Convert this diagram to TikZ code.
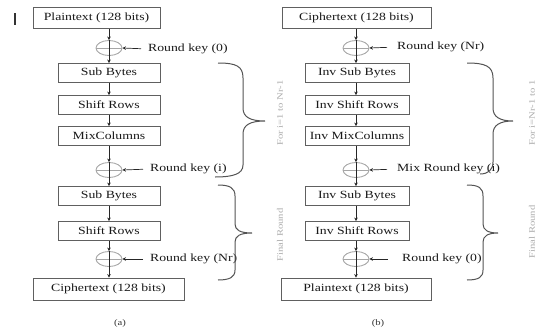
\documentclass[tikz,border=0pt]{standalone}
\usepackage{fontspec}
\setmainfont{Liberation Serif}[FakeStretch=1.25]
\usetikzlibrary{arrows.meta,shapes.geometric}
\begin{document}
\begin{tikzpicture}[x=1pt,y=-1pt,
  box/.style={draw=gray!75!black, line width=0.9pt, fill=white, inner sep=0pt,
    font=\fontsize{11}{12}\selectfont, text=black!90},
  midbox/.style={box, minimum height=19pt},
  xorsym/.style={draw=gray!70, line width=0.9pt, ellipse, minimum width=26pt, minimum height=15pt, inner sep=0pt},
  keytext/.style={anchor=west, inner sep=0pt, font=\fontsize{11}{12}\selectfont, text=black!90},
  arr/.style={draw=black!85, line width=0.7pt, -{Stealth[length=3.5pt,width=3.5pt]}},
  bracestyle/.style={draw=gray!65!black, line width=1pt},
  rotlabel/.style={rotate=90, text=gray!65, font=\fontsize{8.5}{9}\selectfont},
  caption/.style={font=\fontsize{8.5}{9}\selectfont, text=black!80}]
\useasboundingbox (0,0) rectangle (548,332);
% stray bar
\draw[line width=1.6pt, black!80] (15,13) -- (15,25);

% ---------------- left column (a)
\node[box, minimum width=127pt, minimum height=21pt] (p1) at (96.5,18) {Plaintext (128 bits)};
\node[xorsym] (xa1) at (109,48) {};
\draw[gray!70, line width=0.8pt] (xa1.west) -- (xa1.east);
\node[keytext] (ka1) at (148,49) {Round key (0)};
\node[midbox, minimum width=102pt] (sb1) at (109,73) {Sub Bytes};
\node[midbox, minimum width=102pt] (sr1) at (109,105) {Shift Rows};
\node[midbox, minimum width=102pt] (mc1) at (109,136) {MixColumns};
\node[xorsym] (xa2) at (109,170) {};
\draw[gray!70, line width=0.8pt] (xa2.west) -- (xa2.east);
\node[keytext] (ka2) at (150,169) {Round key (i)};
\node[midbox, minimum width=102pt] (sb2) at (109,196) {Sub Bytes};
\node[midbox, minimum width=102pt] (sr2) at (109,231) {Shift Rows};
\node[xorsym] (xa3) at (109,259) {};
\draw[gray!70, line width=0.8pt] (xa3.west) -- (xa3.east);
\node[keytext] (ka3) at (150,259) {Round key (Nr)};
\node[box, minimum width=151pt, minimum height=22pt] (c1) at (108.5,289) {Ciphertext (128 bits)};
\node[caption] (capa) at (120,323) {(a)};

\draw[arr] (xa1.north |- p1.south) -- (xa1.north);
\draw[arr] (xa1.north) -- (sb1.north);
\draw[arr] (sb1.south) -- (sr1.north);
\draw[arr] (sr1.south) -- (mc1.north);
\draw[arr] (mc1.south) -- (xa2.north);
\draw[arr] (xa2.north) -- (sb2.north);
\draw[arr] (sb2.south) -- (sr2.north);
\draw[arr] (sr2.south) -- (xa3.north);
\draw[arr] (xa3.north) -- (xa3.north |- c1.north);
\draw[arr, shorten <=7pt] (ka1.west) -- (xa1.east);
\draw[arr, shorten <=7pt] (ka2.west) -- (xa2.east);
\draw[arr, shorten <=7pt] (ka3.west) -- (xa3.east);

% ---------------- right column (b)
\node[box, minimum width=149pt, minimum height=21pt] (c2) at (356.5,18) {Ciphertext (128 bits)};
\node[xorsym] (xb1) at (356,48) {};
\draw[gray!70, line width=0.8pt] (xb1.west) -- (xb1.east);
\node[keytext] (kb1) at (397,47) {Round key (Nr)};
\node[midbox, minimum width=104pt] (isb1) at (357,73) {Inv Sub Bytes};
\node[midbox, minimum width=104pt] (isr1) at (357,105) {Inv Shift Rows};
\node[midbox, minimum width=104pt] (imc1) at (357,136) {Inv MixColumns};
\node[xorsym] (xb2) at (356,170) {};
\draw[gray!70, line width=0.8pt] (xb2.west) -- (xb2.east);
\node[keytext] (kb2) at (397,169) {Mix Round key (i)};
\node[midbox, minimum width=104pt] (isb2) at (357,196) {Inv Sub Bytes};
\node[midbox, minimum width=104pt] (isr2) at (357,231) {Inv Shift Rows};
\node[xorsym] (xb3) at (356,259) {};
\draw[gray!70, line width=0.8pt] (xb3.west) -- (xb3.east);
\node[keytext] (kb3) at (402,259) {Round key (0)};
\node[box, minimum width=150pt, minimum height=22pt] (p2) at (356,289) {Plaintext (128 bits)};
\node[caption] (capb) at (378,323) {(b)};

\draw[arr] (xb1.north |- c2.south) -- (xb1.north);
\draw[arr] (xb1.north) -- (xb1.north |- isb1.north);
\draw[arr] (xb1.north |- isb1.south) -- (xb1.north |- isr1.north);
\draw[arr] (xb1.north |- isr1.south) -- (xb1.north |- imc1.north);
\draw[arr] (xb1.north |- imc1.south) -- (xb2.north);
\draw[arr] (xb2.north) -- (xb2.north |- isb2.north);
\draw[arr] (xb2.north |- isb2.south) -- (xb2.north |- isr2.north);
\draw[arr] (xb2.north |- isr2.south) -- (xb3.north);
\draw[arr] (xb3.north) -- (xb3.north |- p2.north);
\draw[arr, shorten <=10pt] (kb1.west) -- (xb1.east);
\draw[arr, shorten <=10pt] (kb2.west) -- (xb2.east);
\draw[arr, shorten <=14pt] (kb3.west) -- (xb3.east);

% ---------------- braces
\draw[bracestyle] (218,63) .. controls (236,63) and (243,66) .. (243,78) -- (243,108)
  .. controls (243,117) and (250,121) .. (265,121) .. controls (250,121) and (243,125) .. (243,134)
  -- (243,165) .. controls (243,174) and (233,177) .. (215,177);
\draw[bracestyle] (218,185) .. controls (230,185) and (235,188) .. (235,196) -- (235,224)
  .. controls (235,230) and (240,233) .. (252,233) .. controls (240,233) and (235,236) .. (235,242)
  -- (235,270) .. controls (235,277) and (230,280) .. (218,280);
\draw[bracestyle] (467,63) .. controls (485,63) and (493,66) .. (493,78) -- (493,108)
  .. controls (493,117) and (500,121) .. (513,121) .. controls (500,121) and (493,125) .. (493,134)
  -- (493,162) .. controls (493,170) and (488,174) .. (480,174);
\draw[bracestyle] (467,185) .. controls (479,185) and (483,188) .. (483,196) -- (483,224)
  .. controls (483,230) and (488,233) .. (498,233) .. controls (488,233) and (483,236) .. (483,242)
  -- (483,270) .. controls (483,277) and (479,280) .. (467,280);

\node[rotlabel] (la1) at (280,113) {For i=1 to Nr-1};
\node[rotlabel] (la2) at (280,235) {Final Round};
\node[rotlabel] (lb1) at (532,113) {For i=Nr-1 to 1};
\node[rotlabel] (lb2) at (532,232) {Final Round};
\end{tikzpicture}
\end{document}
